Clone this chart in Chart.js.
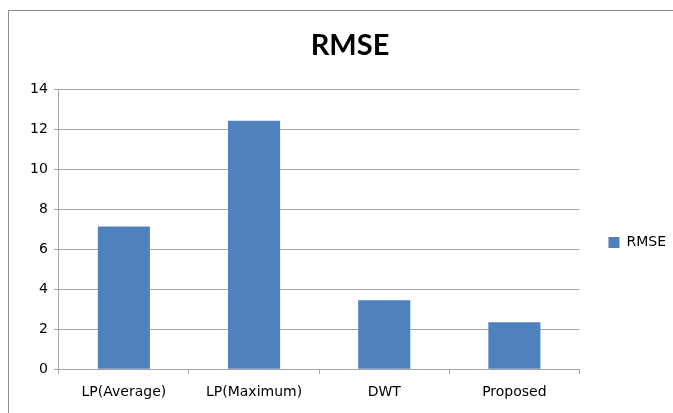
<!DOCTYPE html>
<html>
<head>
<meta charset="utf-8">
<script src="https://cdn.jsdelivr.net/npm/chart.js@4"></script>
<style>
  body { margin: 0; background: #fff; }
  #frame { position: absolute; left: 8px; top: 10px; width: 680px; height: 420px; border: 1px solid #8c8c8c; }
  #wrap { position: absolute; left: 0; top: 0; width: 673px; height: 413px; }
</style>
</head>
<body>
<div id="frame"></div>
<div id="wrap"><canvas id="rmseChart"></canvas></div>
<script>
// RMSE comparison
const categories = ['LP(Average)', 'LP(Maximum)', 'DWT', 'Proposed'];
const rmseValues = [7.15, 12.45, 3.45, 2.35];
const yTicks = [0, 2, 4, 6, 8, 10, 12, 14];

const gridColor = '#a6a6a6';
const barColor = '#4f81bd';
const tickFont = { family: '"DejaVu Sans", sans-serif', size: 14 };

const ctx = document.getElementById('rmseChart');
new Chart(ctx, {
    type: 'bar',
    data: {
        labels: categories,
        datasets: [
            {
                label: 'RMSE',
                data: rmseValues,
                backgroundColor: barColor,
                borderWidth: 0,
                barPercentage: 0.4,
                categoryPercentage: 1.0
            }
        ]
    },
    options: {
        responsive: true,
        maintainAspectRatio: false,
        animation: false,
        layout: {
            padding: { left: 24, right: -3, top: 28, bottom: 2 }
        },
        scales: {
            x: {
                grid: {
                    offset: true,
                    drawOnChartArea: false,
                    color: gridColor,
                    tickLength: 5
                },
                border: { color: gridColor },
                ticks: {
                    color: '#000',
                    font: tickFont,
                    padding: 10
                }
            },
            y: {
                min: 0,
                max: 14,
                afterBuildTicks: (axis) => {
                    axis.ticks = yTicks.map(v => ({ value: v }));
                },
                grid: {
                    color: gridColor,
                    tickLength: 5
                },
                border: { color: gridColor },
                ticks: {
                    color: '#000',
                    font: tickFont,
                    padding: 6
                }
            }
        },
        plugins: {
            legend: {
                position: 'right',
                align: 'center',
                fullSize: false,
                title: {
                    display: true,
                    text: '',
                    font: { size: 14 },
                    padding: { top: 9, bottom: 0 }
                },
                labels: {
                    boxWidth: 11,
                    boxHeight: 11,
                    padding: 29,
                    color: '#000',
                    font: tickFont
                }
            },
            title: {
                display: true,
                text: 'RMSE',
                color: '#000',
                font: { family: 'Lato, sans-serif', size: 29, weight: 'bold' },
                padding: { top: 0, bottom: 27 }
            },
            tooltip: { enabled: false }
        }
    }
});
</script>
</body>
</html>
